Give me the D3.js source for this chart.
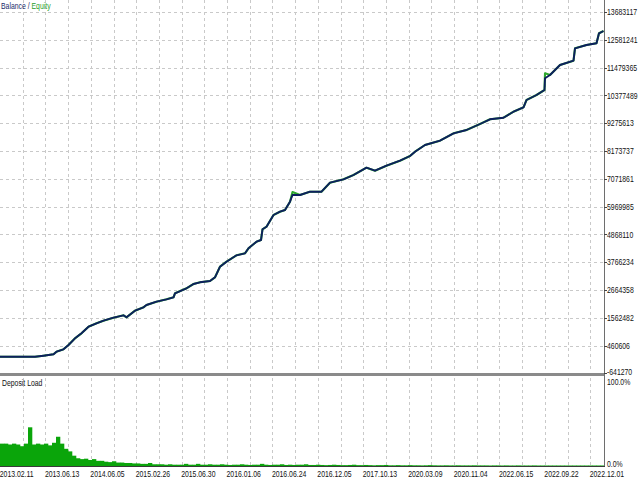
<!DOCTYPE html>
<html><head><meta charset="utf-8">
<script src="https://cdn.jsdelivr.net/npm/d3@7"></script>
<style>
html,body{margin:0;padding:0;background:#fff;}
svg{display:block;font-family:"Liberation Sans",Arial,sans-serif;}
</style></head>
<body>
<svg id="c" width="640" height="480"></svg>
<script>
// ---- data ----
const deals = [0,70,87,107,113,127,137,150,163,177,193,207,227,247,253,270,287,293,313,333,347,350,373,387,400,420,430,440,453,473,490,497,513,522,525,533,547,560,570,580,585,600,620,643,660,687,707,733,750,773,800,820,830,850,880,907,933,960,980,1007,1027,1047,1053,1073,1089,1090,1100,1120,1147,1150,1173,1193,1198,1207];
const balance = [20650,20650,60290,115780,218830,313960,484390,749950,948130,1209730,1344490,1447550,1566460,1661580,1582310,1843910,1978670,2069830,2200630,2295760,2375030,2533570,2731750,2902190,2969570,3021100,3167750,3587890,3786070,4039740,4119010,4317190,4578790,4646170,5070280,5173330,5637070,5767870,5835250,6164230,6429790,6429790,6560590,6560590,6917320,7052080,7222510,7511860,7392950,7591130,7789310,7975600,8146030,8411590,8582030,8875330,9006130,9243950,9430240,9493660,9731470,9905870,10195210,10393390,10591570,11055310,11186110,11582470,11752910,12244390,12375190,12442570,12838930,12930100];
const equity = [20650,20650,60290,115780,218830,313960,484390,749950,948130,1209730,1344490,1447550,1566460,1661580,1582310,1843910,1978670,2069830,2200630,2295760,2375030,2533570,2731750,2902190,2969570,3021100,3167750,3587890,3786070,4039740,4119010,4317190,4578790,4646170,5070280,5173330,5637070,5767870,5835250,6164230,6548700,6429790,6560590,6560590,6917320,7052080,7222510,7511860,7392950,7591130,7789310,7975600,8146030,8411590,8582030,8875330,9006130,9243950,9430240,9493660,9731470,9905870,10195210,10393390,10591570,11253470,11186110,11582470,11752910,12244390,12375190,12442570,12838930,12930100];
const yTicks = [-641270,460606,1562482,2664358,3766234,4868110,5969985,7071861,8173737,9275613,10377489,11479365,12581241,13683117];
const xGridDeals = [45.4,90.8,136.2,181.6,227,272.4,317.8,363.2,408.6,454,499.4,544.8,590.2,635.6,681,726.4,771.8,817.2,862.6,908,953.4,998.8,1044.2,1089.6,1135,1180.4];
const xLabelDeals = [45.4,136.2,227,317.8,408.6,499.4,590.2,681,771.8,862.6,953.4,1044.2,1135,1225.8];
const xLabels = ["2013.02.11","2013.06.13","2014.06.05","2015.02.26","2015.06.30","2016.01.06","2016.06.24","2016.12.05","2017.10.13","2020.03.09","2020.11.04","2022.06.15","2022.09.22","2022.12.01"];
// deposit load, % per bar (151 bars across all deals)
const depositLoad = [26,26,25,26,25,23,26,45,25,26,25,26,24,27,34,26,20,17,12,9,8,8.5,7,8,6,6,5,4.5,5.5,4,4,3.5,3.5,3,3,2.5,2.5,3.5,2,2,2,1.5,2,1.5,1.5,1.5,2.5,1.5,1.5,2.5,
1.5,1.5,2,1.5,1.5,2,1.5,1.2,1.5,1.5,2,1.5,1.2,1.5,1.5,2.5,1.5,1.2,1.5,1.5,2,1.2,1.5,1.2,1.5,1.5,2,1.2,1.2,1.5,1.2,1,1.2,1.5,1.2,1,1,1.2,1.5,1,1,1.2,1,0.8,1,1,1.2,0.8,0.8,1,
0.8,0.8,1,0.8,0.8,0.7,0.8,1,0.8,0.7,0.7,0.8,0.7,0.7,0.8,0.7,0.7,0.7,0.8,0.7,0.7,0.7,0.6,0.7,0.7,0.6,0.7,0.6,0.6,0.7,0.6,0.6,0.6,0.7,0.6,0.6,0.6,0.6,0.6,0.6,0.6,0.6,0.6,0.6,0.6,0.6,0.6,0.6,0.6,0.6,0.6];
const loadTicks = [0,100];

// ---- layout ----
const svg = d3.select("#c");
const plotRight = 604;
const x = d3.scaleLinear().domain([0,1208]).range([0,plotRight]);
const y = d3.scaleLinear().domain([-641270,13683117]).range([373.4,12]);
const yl = d3.scaleLinear().domain([0,100]).range([466,380]);
const xb = d3.scaleBand().domain(d3.range(depositLoad.length)).range([0,plotRight]).padding(0);
const FS = 8.6, SX = 0.8;

function label(g, tx, ty, txt, anchor, fill){
  g.append("text").attr("transform",`translate(${tx},${ty}) scale(${SX},1)`)
   .attr("text-anchor",anchor).attr("dominant-baseline","central")
   .attr("font-size",FS).attr("fill",fill||"#111").text(txt);
}

// grids (upper)
const grid = svg.append("g").attr("stroke","#c9c9c9").attr("stroke-dasharray","3,3").attr("stroke-width",1);
yTicks.slice(1).forEach(v=>{
  const yy = Math.round(y(v))+0.5;
  grid.append("line").attr("x1",0).attr("x2",plotRight).attr("y1",yy).attr("y2",yy);
});
xGridDeals.forEach(d=>{
  const xx = Math.round(x(d))+0.5;
  grid.append("line").attr("x1",xx).attr("x2",xx).attr("y1",0).attr("y2",372);
  grid.append("line").attr("x1",xx).attr("x2",xx).attr("y1",378).attr("y2",466);
});

// deposit load bars
svg.append("g").selectAll("rect").data(depositLoad).join("rect")
  .attr("x",(d,i)=>xb(i)).attr("width",xb.bandwidth()+0.3)
  .attr("y",d=>yl(d)).attr("height",d=>yl(0)-yl(d))
  .attr("fill","#0aa50a");

// lines
const line = d3.line().x((d,i)=>x(deals[i])).y(d=>y(d));
svg.append("path").datum(equity).attr("d",line).attr("fill","none")
  .attr("stroke","#2fa82f").attr("stroke-width",2.1).attr("stroke-linejoin","round");
svg.append("path").datum(balance).attr("d",line).attr("fill","none")
  .attr("stroke","#0d1f5e").attr("stroke-width",1.9).attr("stroke-linejoin","round");

// separator
svg.append("rect").attr("x",0).attr("y",373).attr("width",plotRight+1).attr("height",3).attr("fill","#8a8a8a");
// right axis line
svg.append("line").attr("x1",plotRight+0.5).attr("x2",plotRight+0.5).attr("y1",0).attr("y2",467)
  .attr("stroke","#6e6e6e").attr("stroke-width",1);
// bottom axis line
svg.append("line").attr("x1",0).attr("x2",plotRight+1).attr("y1",466.5).attr("y2",466.5)
  .attr("stroke","#3a3a3a").attr("stroke-width",1);

// y labels
const ya = svg.append("g");
yTicks.forEach((v,i)=>{
  const yy = y(v);
  ya.append("line").attr("x1",plotRight).attr("x2",plotRight+3).attr("y1",Math.round(yy)+0.5).attr("y2",Math.round(yy)+0.5).attr("stroke","#444");
  label(ya, plotRight+3, i===0 ? yy-1.5 : yy+0.5, String(v), "start");
});
loadTicks.forEach(v=>{
  label(ya, plotRight+3, yl(v)+(v===0?-1.5:2.5), v.toFixed(1)+"%", "start");
});

// x labels
const xa = svg.append("g");
xLabelDeals.forEach((d,i)=>{
  label(xa, x(d)-6, 474.5, xLabels[i], "middle");
});

// titles
const leg = svg.append("text").attr("transform","translate(1,6) scale(0.8,1)")
  .attr("dominant-baseline","central").attr("font-size",FS);
leg.append("tspan").attr("fill","#1a2a6a").text("Balance");
leg.append("tspan").attr("fill","#1a2a6a").text(" / ");
leg.append("tspan").attr("fill","#2aa02a").text("Equity");
label(svg, 2, 383.5, "Deposit Load", "start", "#111");
</script>
</body></html>
